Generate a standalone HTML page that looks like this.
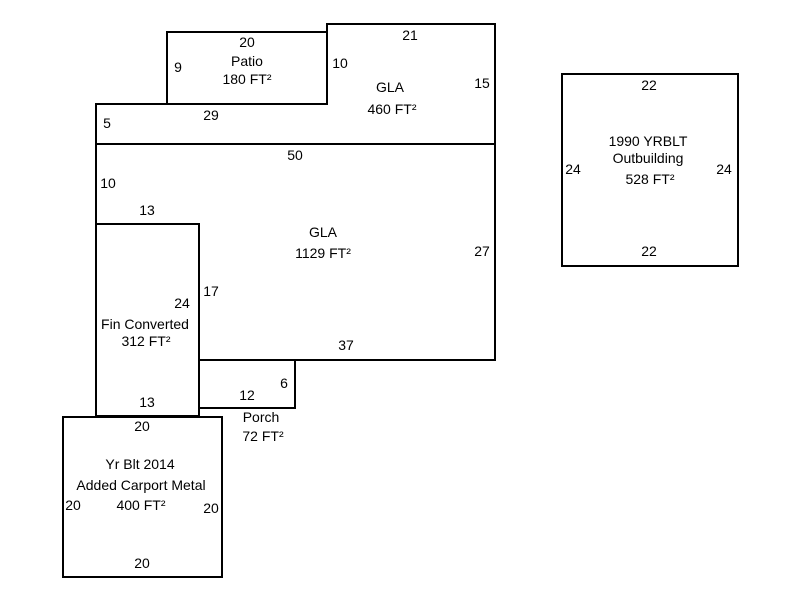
<!DOCTYPE html>
<html><head><style>html,body{margin:0;padding:0;background:#fff}svg{display:block}text{font-family:"Liberation Sans",Arial,sans-serif;font-size:14px;fill:#000}</style></head>
<body>
<svg width="800" height="600" viewBox="0 0 800 600" xmlns="http://www.w3.org/2000/svg">
<g fill="none" stroke="#000" stroke-width="2">
<polyline points="327,104 327,24 495,24 495,360 199,360"/>
<rect x="167" y="32" width="160" height="72"/>
<polyline points="96,224 96,104 327,104"/>
<line x1="96" y1="144" x2="495" y2="144"/>
<rect x="96" y="224" width="103" height="192"/>
<polyline points="199,360 295,360 295,408 199,408"/>
<rect x="63" y="417" width="159" height="160"/>
<rect x="562" y="74" width="176" height="192"/>
</g>
<g text-anchor="middle">
<text x="247" y="47">20</text><text x="247" y="66">Patio</text><text x="247" y="84">180 FT²</text>
<text x="178" y="72">9</text><text x="340" y="68">10</text>
<text x="410" y="40">21</text><text x="482" y="88">15</text>
<text x="390" y="92">GLA</text><text x="392" y="114">460 FT²</text>
<text x="107" y="128">5</text><text x="211" y="120">29</text>
<text x="295" y="160">50</text><text x="108" y="188">10</text>
<text x="147" y="215">13</text>
<text x="323" y="237">GLA</text><text x="323" y="258">1129 FT²</text>
<text x="482" y="256">27</text>
<text x="182" y="308">24</text><text x="211" y="296">17</text>
<text x="145" y="329">Fin Converted</text><text x="146" y="346">312 FT²</text>
<text x="346" y="350">37</text>
<text x="147" y="407">13</text><text x="247" y="400">12</text><text x="284" y="388">6</text>
<text x="261" y="422">Porch</text><text x="263" y="441">72 FT²</text>
<text x="142" y="431">20</text>
<text x="140" y="469">Yr Blt 2014</text><text x="141" y="490">Added Carport Metal</text><text x="141" y="510">400 FT²</text>
<text x="73" y="510">20</text><text x="211" y="513">20</text><text x="142" y="568">20</text>
<text x="649" y="90">22</text>
<text x="648" y="146">1990 YRBLT</text><text x="648" y="163">Outbuilding</text><text x="650" y="184">528 FT²</text>
<text x="573" y="174">24</text><text x="724" y="174">24</text><text x="649" y="256">22</text>
</g>
</svg>
</body></html>
